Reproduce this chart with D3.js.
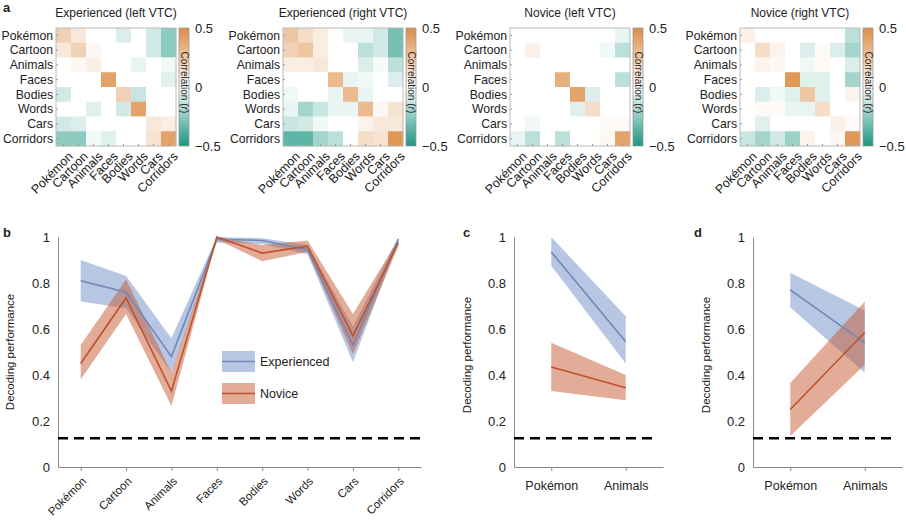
<!DOCTYPE html>
<html><head><meta charset="utf-8">
<script src="https://cdn.jsdelivr.net/npm/d3@7"></script>
<style>
body{margin:0;background:#fff;}
text{font-family:"Liberation Sans",Arial,sans-serif;fill:#222;}
</style></head>
<body><svg id="c" width="906" height="522"></svg>
<script>
const categories = ["Pokémon","Cartoon","Animals","Faces","Bodies","Words","Cars","Corridors"];
const heatTitles = ["Experienced (left VTC)","Experienced (right VTC)","Novice (left VTC)","Novice (right VTC)"];
const corrExpLeft = [
 [0.2,0.1,0,0,-0.08,0,-0.1,-0.25],
 [0.1,0.2,0.03,0,0,0,-0.1,-0.25],
 [0,0.03,0.07,0,0,-0.05,0,-0.03],
 [0,0,0,0.4,0,0,0,-0.07],
 [-0.1,0,0,0,0.2,-0.12,0,0],
 [0,0,-0.07,0,-0.1,0.4,0,0],
 [-0.1,-0.08,0,0,0,0,0.1,0.08],
 [-0.25,-0.25,-0.03,-0.07,0,0,0.12,0.4]];
const corrExpRight = [
 [0.25,0.15,0.08,0,-0.05,-0.05,-0.1,-0.3],
 [0.2,0.25,0.08,0,0,-0.15,-0.1,-0.3],
 [0.08,0.08,0.1,0,0,-0.08,-0.02,-0.15],
 [0,0,0,0.3,-0.05,-0.03,0,-0.08],
 [-0.03,0,0,-0.05,0.3,-0.05,0,0],
 [-0.05,-0.2,-0.12,-0.05,-0.05,0.3,0.03,0.12],
 [-0.12,-0.1,-0.03,0,0,0.05,0.1,0.1],
 [-0.35,-0.35,-0.2,-0.15,0,0.15,0.12,0.45]];
const corrNovLeft = [
 [0,0,0,0,0,0,0,-0.05],
 [0,0.06,0,0,0,0,-0.03,-0.15],
 [0,0,0,0,0,0,0,0],
 [0,0,0,0.35,0,0,0,-0.15],
 [0,0,0,0,0.4,-0.08,0,0],
 [0,0,0,0,-0.07,0.15,0,0],
 [0,-0.03,0,0,0,0,0.02,0.02],
 [-0.05,-0.15,0,-0.15,0,0,0.03,0.4]];
const corrNovRight = [
 [0.06,0,0,0,0,0,0,-0.15],
 [0,0.15,0.05,0,-0.08,0.02,-0.08,-0.2],
 [0,0.05,0.03,0,-0.03,0.02,0,-0.08],
 [0,0,0,0.45,-0.07,-0.07,0,-0.2],
 [0,-0.08,-0.03,-0.07,0.25,-0.07,0,0.05],
 [0,0.02,0.02,-0.05,-0.05,0.15,0,0],
 [0,-0.07,0,0,0,0,0.06,0.02],
 [-0.12,-0.2,-0.1,-0.22,0.05,0,0.03,0.45]];
const cbTicks = [0.5,0,-0.5];

const expMean = [0.81,0.76,0.48,0.99,0.985,0.945,0.53,0.99];
const expLo   = [0.72,0.69,0.41,0.975,0.97,0.925,0.455,0.98];
const expHi   = [0.90,0.83,0.56,1.0,0.995,0.965,0.61,1.0];
const novMean = [0.45,0.735,0.33,1.0,0.93,0.96,0.57,0.975];
const novLo   = [0.38,0.665,0.265,0.99,0.895,0.935,0.49,0.96];
const novHi   = [0.53,0.815,0.41,1.0,0.965,0.985,0.665,0.99];

const subCats = ["Pokémon","Animals"];
const cExpMean = [0.935,0.545], cExpLo = [0.875,0.45], cExpHi = [1.0,0.655];
const cNovMean = [0.435,0.345], cNovLo = [0.33,0.29], cNovHi = [0.54,0.40];
const dExpMean = [0.77,0.54], dExpLo = [0.695,0.41], dExpHi = [0.845,0.68];
const dNovMean = [0.25,0.585], dNovLo = [0.135,0.445], dNovHi = [0.365,0.72];

const yTicks = [0,0.2,0.4,0.6,0.8,1];
const chance = 0.125;
const legendLabels = ["Experienced","Novice"];

const svg = d3.select("#c");
const BLUE = "#6f88b8", BLUEF = "#7090c8", RED = "#c0522b", REDF = "#c55a33";
const color = d3.scaleLinear().domain([-0.5,0,0.5]).range(["#1b9680","#ffffff","#dd8c45"]);

// ---- panel a heatmaps ----
const mats = [corrExpLeft,corrExpRight,corrNovLeft,corrNovRight];
const heatLeft = [56,283,510,740];
const hTop = 28, hW = 120, hH = 118;
svg.append("text").attr("x",3).attr("y",12).attr("font-size",13).attr("font-weight","bold").text("a");
mats.forEach((m,k)=>{
  const g = svg.append("g").attr("transform",`translate(${heatLeft[k]},${hTop})`);
  const xb = d3.scaleBand().domain(categories).range([0,hW]);
  const yb = d3.scaleBand().domain(categories).range([0,hH]);
  categories.forEach((r,i)=>categories.forEach((c,j)=>{
    g.append("rect").attr("x",xb(c)).attr("y",yb(r)).attr("width",xb.bandwidth()+0.3).attr("height",yb.bandwidth()+0.3)
      .attr("fill",color(m[i][j]));
  }));
  g.append("rect").attr("width",hW).attr("height",hH).attr("fill","none").attr("stroke","#bbb").attr("stroke-width",1);
  categories.forEach(c=>{
    g.append("line").attr("x1",xb(c)+xb.bandwidth()/2).attr("x2",xb(c)+xb.bandwidth()/2).attr("y1",hH).attr("y2",hH-2).attr("stroke","#999");
    g.append("line").attr("y1",yb(c)+yb.bandwidth()/2).attr("y2",yb(c)+yb.bandwidth()/2).attr("x1",0).attr("x2",2).attr("stroke","#999");
  });
  g.append("text").attr("x",hW/2).attr("y",-11).attr("text-anchor","middle").attr("font-size",12).text(heatTitles[k]);
  categories.forEach(c=>{
    g.append("text").attr("x",-3).attr("y",yb(c)+yb.bandwidth()/2).attr("dy","0.35em").attr("text-anchor","end").attr("font-size",12.2).text(c);
    g.append("text").attr("transform",`translate(${xb(c)+xb.bandwidth()/2+4},${hH+5}) rotate(-45)`)
      .attr("text-anchor","end").attr("dy","0.7em").attr("font-size",12.5).text(c);
  });
  const gid = "grad"+k;
  const grad = svg.append("defs").append("linearGradient").attr("id",gid).attr("x1",0).attr("x2",0).attr("y1",0).attr("y2",1);
  [0.5,0.25,0,-0.25,-0.5].forEach((v,i)=>grad.append("stop").attr("offset",i/4).attr("stop-color",color(v)));
  const cbx = hW+3, cbw = 10;
  const cy = d3.scaleLinear().domain([0.5,-0.5]).range([0,hH]);
  g.append("rect").attr("x",cbx).attr("y",0).attr("width",cbw).attr("height",hH).attr("fill",`url(#${gid})`).attr("stroke","#999").attr("stroke-width",0.8);
  cbTicks.forEach(v=>{
    g.append("text").attr("x",cbx+cbw+6).attr("y",cy(v)).attr("dy","0.35em").attr("font-size",13).text(v<0?"\u2212"+Math.abs(v):String(v));
  });
  const lt = g.append("text").attr("transform",`translate(${cbx+cbw/2-3.5},${cy(0.25)-6}) rotate(90)`).attr("font-size",10).attr("fill","#333");
  lt.append("tspan").text("Correlation (");
  lt.append("tspan").attr("font-style","italic").text("r");
  lt.append("tspan").text(")");
});

// ---- line panels ----
function linePanel(label, x0, x1, cats, series, legend){
  const y = d3.scaleLinear().domain([0,1]).range([467,237]);
  const x = d3.scalePoint().domain(cats).range([x0,x1]).padding(0.5);
  const g = svg.append("g");
  g.append("text").attr("x",label.lx).attr("y",label.ly).attr("font-size",13).attr("font-weight","bold").text(label.t);
  const ya = g.append("g").attr("transform",`translate(${x0},0)`)
    .call(d3.axisLeft(y).tickValues(yTicks).tickSize(0).tickPadding(8).tickFormat(d=>d===0||d===1?String(d):d.toFixed(1)));
  ya.select(".domain").attr("stroke","#888");
  ya.selectAll("text").attr("font-size",13).attr("font-family","Liberation Sans, Arial, sans-serif").attr("fill","#222");
  const xa = g.append("g").attr("transform",`translate(0,467)`)
    .call(d3.axisBottom(x).tickSize(4).tickSizeOuter(0).tickPadding(10));
  xa.select(".domain").attr("stroke","#888");
  xa.selectAll(".tick line").attr("stroke","#888");
  xa.selectAll("text").attr("font-size",label.rot?11.5:12.5).attr("font-family","Liberation Sans, Arial, sans-serif").attr("fill","#222");
  if(label.rot){
    xa.selectAll("text").attr("text-anchor","end").attr("y",0).attr("dy","0.35em").attr("transform","translate(3,12) rotate(-45)");
  }
  g.append("text").attr("transform",`translate(${label.yx},${label.yy}) rotate(-90)`).attr("text-anchor","middle").attr("font-size",11.5).text("Decoding performance");
  g.append("line").attr("x1",x0).attr("x2",label.dashEnd).attr("y1",y(chance)).attr("y2",y(chance))
    .attr("stroke","#000").attr("stroke-width",2.5).attr("stroke-dasharray","10,6");
  series.forEach(s=>{
    const area = d3.area().x((d,i)=>x(cats[i])).y0((d,i)=>y(s.lo[i])).y1((d,i)=>y(s.hi[i]));
    g.append("path").attr("d",area(s.mean)).attr("fill",s.fill).attr("fill-opacity",0.5);
  });
  series.forEach(s=>{
    const line = d3.line().x((d,i)=>x(cats[i])).y(d=>y(d));
    g.append("path").attr("d",line(s.mean)).attr("fill","none").attr("stroke",s.stroke).attr("stroke-width",1.6);
  });
  if(legend){
    series.forEach((s,i)=>{
      const ly = 351 + i*32;
      g.append("rect").attr("x",222).attr("y",ly).attr("width",33).attr("height",21).attr("fill",s.fill).attr("fill-opacity",0.5);
      g.append("line").attr("x1",222).attr("x2",255).attr("y1",ly+10.5).attr("y2",ly+10.5).attr("stroke",s.stroke).attr("stroke-width",1.6);
      g.append("text").attr("x",260).attr("y",ly+10.5).attr("dy","0.35em").attr("font-size",12.5).text(legendLabels[i]);
    });
  }
}
linePanel({t:"b",lx:3,ly:237,rot:true,yx:14,yy:352,dashEnd:421},58,421,categories,[
  {mean:expMean,lo:expLo,hi:expHi,fill:BLUEF,stroke:BLUE},
  {mean:novMean,lo:novLo,hi:novHi,fill:REDF,stroke:RED}],true);
linePanel({t:"c",lx:463,ly:237,rot:false,yx:471,yy:355,dashEnd:654},514,663,subCats,[
  {mean:cExpMean,lo:cExpLo,hi:cExpHi,fill:BLUEF,stroke:BLUE},
  {mean:cNovMean,lo:cNovLo,hi:cNovHi,fill:REDF,stroke:RED}],false);
linePanel({t:"d",lx:694,ly:237,rot:false,yx:710,yy:355,dashEnd:893},753,902,subCats,[
  {mean:dExpMean,lo:dExpLo,hi:dExpHi,fill:BLUEF,stroke:BLUE},
  {mean:dNovMean,lo:dNovLo,hi:dNovHi,fill:REDF,stroke:RED}],false);
</script></body></html>
